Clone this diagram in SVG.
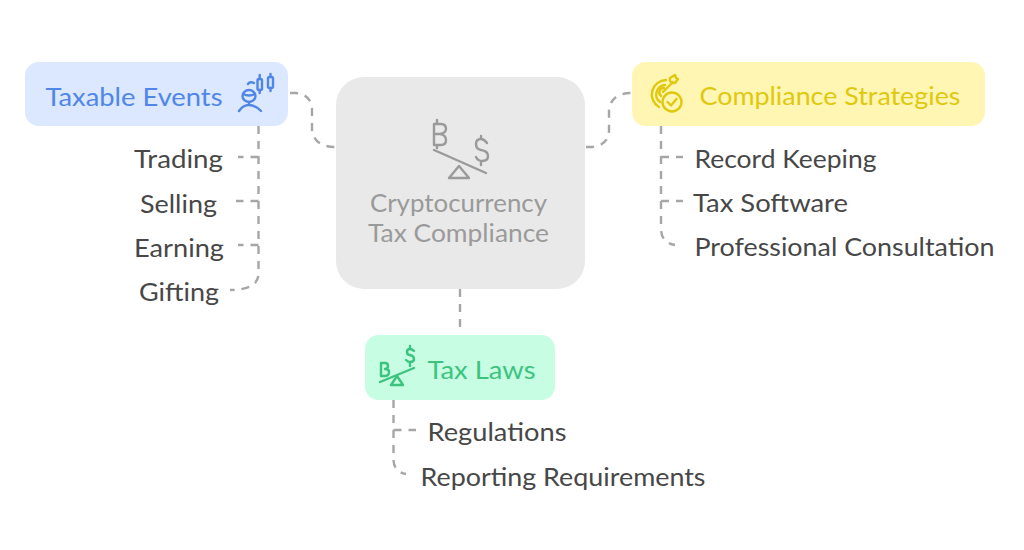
<svg xmlns="http://www.w3.org/2000/svg" width="1024" height="550" viewBox="0 0 1024 550">
<style>
text{font-family:"Lato","Noto Sans",sans-serif;font-size:25px;fill:#474747}
.c{fill:none;stroke:#a6a6a6;stroke-width:2.400;stroke-dasharray:8 7}
.ic{fill:none;stroke-width:2.400;stroke-linecap:round;stroke-linejoin:round}
</style>
<rect width="1024" height="550" fill="#fff"/>
<g id="connectors">
<path class="c" d="M290 93H296Q312 95 312 110V130Q314 147 336 147"/>
<path class="c" d="M586 147H592Q609 145 609 130V110Q611 93 632 93"/>
<path class="c" d="M460 289V328"/>
<path class="c" d="M258.500 126V275Q257 290 230 290"/>
<path class="c" d="M258.500 157H238M258.500 201H236M258.500 245H238"/>
<path class="c" d="M661 126V230Q662 243 675 245"/>
<path class="c" d="M661 157H683M661 201H683"/>
<path class="c" d="M393.500 400V460Q394 472 406 474"/>
<path class="c" d="M393.500 430H416"/>
</g>
<g id="center">
<rect x="336" y="77" width="249" height="212" rx="28" fill="#e9e9e9"/>
<g class="ic" stroke="#9a9a9a">
<path d="M434 150L486 173"/>
<path d="M449 178L459 166L469 178Z"/>
<path d="M434 124H441Q446 124 446 129Q446 133 440 134Q446 135 446 140Q446 145 441 145H434ZM434 134H440M437 120V124M437 145V148"/>
<path d="M487 143Q484 139 481 139Q476 139 476 144Q476 149 481 150Q488 151 488 156Q488 161 482 161Q478 161 476 157M481 136V139M481 161V165"/>
</g>
<text x="370" y="212" textLength="177" lengthAdjust="spacingAndGlyphs" style="fill:#9a9a9a">Cryptocurrency</text>
<text x="368" y="242" textLength="181" lengthAdjust="spacingAndGlyphs" style="fill:#9a9a9a">Tax Compliance</text>
</g>
<g id="taxable-events">
<rect x="25" y="62" width="263" height="64" rx="14" fill="#dbe8ff"/>
<text x="45.500" y="105.500" textLength="177" lengthAdjust="spacingAndGlyphs" style="fill:#4f86e8">Taxable Events</text>
<g class="ic" stroke="#4f86e8">
<ellipse cx="249" cy="96" rx="6.500" ry="6"/>
<path d="M243 94Q249 97 255 94M249 102V105M239 111Q243 105 249 105Q255 105 261 111M248 84Q250 81 254 83"/>
<rect x="257.500" y="79" width="4.500" height="11" rx="1.500"/>
<path d="M259.700 75V79M259.700 90V93"/>
<rect x="268" y="77" width="5" height="11" rx="1.500"/>
<path d="M270.500 74V77M270.500 88V91"/>
</g>
</g>
<g id="compliance-strategies">
<rect x="632" y="62" width="353" height="64" rx="14" fill="#fff6b3"/>
<g class="ic" stroke="#e0c80f">
<path d="M666 80A14.500 14.500 0 0 0 659 107"/>
<path d="M665 85A9.500 9.500 0 0 0 660 102"/>
<path d="M664 88A4.500 4.500 0 0 0 661 96"/>
<path d="M663 92L673 82M670 81L670 78L675 75L676 78L678 79L675 83L672 83Z"/>
<circle cx="672" cy="102" r="9.500"/>
<path d="M667.500 102L671 105.500L676.500 99"/>
</g>
<text x="699.500" y="105" textLength="261" lengthAdjust="spacingAndGlyphs" style="fill:#e0c80f">Compliance Strategies</text>
</g>
<g id="tax-laws">
<rect x="365" y="335" width="190" height="65" rx="14" fill="#c6fde3"/>
<g class="ic" stroke="#3cc47f">
<path d="M380 382L414 368"/>
<path d="M391 385L397 376L403 385Z"/>
<path d="M381 363H385Q388 363 388 366Q388 369 385 369Q389 369 389 372Q389 376 385 376H381Z"/>
<path d="M414 351Q412 349 410 349Q407 349 407 352Q407 355 410 355Q414 356 414 359Q414 362 410 362Q408 362 406 360M410 346V349M410 362V366"/>
</g>
<text x="427.500" y="379" textLength="108" lengthAdjust="spacingAndGlyphs" style="fill:#3cc47f">Tax Laws</text>
</g>
<g id="trading"><text x="134" y="168" textLength="89" lengthAdjust="spacingAndGlyphs">Trading</text></g>
<g id="selling"><text x="140" y="213" textLength="77" lengthAdjust="spacingAndGlyphs">Selling</text></g>
<g id="earning"><text x="134" y="257" textLength="90" lengthAdjust="spacingAndGlyphs">Earning</text></g>
<g id="gifting"><text x="139" y="301" textLength="80" lengthAdjust="spacingAndGlyphs">Gifting</text></g>
<g id="record-keeping"><text x="694.500" y="168" textLength="182" lengthAdjust="spacingAndGlyphs">Record Keeping</text></g>
<g id="tax-software"><text x="693" y="212" textLength="155" lengthAdjust="spacingAndGlyphs">Tax Software</text></g>
<g id="professional-consultation"><text x="694.500" y="256" textLength="300" lengthAdjust="spacingAndGlyphs">Professional Consultation</text></g>
<g id="regulations"><text x="427.500" y="441" textLength="139" lengthAdjust="spacingAndGlyphs">Regulations</text></g>
<g id="reporting-requirements"><text x="420.500" y="486" textLength="285" lengthAdjust="spacingAndGlyphs">Reporting Requirements</text></g>
</svg>
